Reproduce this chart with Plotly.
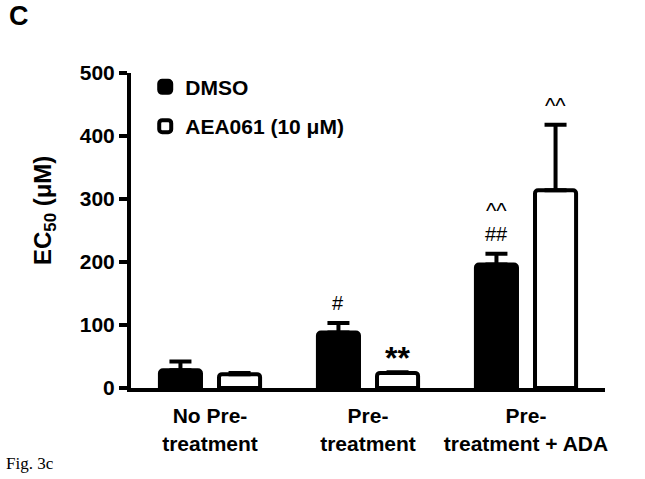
import plotly.graph_objects as go

# Data (EC50 in uM, mean + upper SEM)
categories = ["No Pre-<br>treatment", "Pre-<br>treatment", "Pre-<br>treatment + ADA"]
dmso_vals = [28, 88, 196]
dmso_err = [14, 15, 17]
aea_vals = [22, 24, 314]
aea_err = [2, 1, 104]

# significance marks above each bar
dmso_marks = ["", "#", "##"]
dmso_marks_top = ["", "", "^^"]
aea_marks = ["", "**", "^^"]

y_ticks = [0, 100, 200, 300, 400, 500]

FONT = "Liberation Sans, Arial, sans-serif"
W, H = 645, 479
ML, MR, MT, MB = 131, 40, 73, 91
bargap_ = 0.252
half_slot = (1 - bargap_) / 4  # offset of each bar centre from the category centre

fig = go.Figure()

fig.add_bar(
    name="DMSO",
    x=categories,
    y=dmso_vals,
    marker=dict(color="black", line=dict(color="black", width=4), cornerradius=3),
    error_y=dict(type="data", array=dmso_err, arrayminus=[0] * 3, symmetric=False,
                 color="black", thickness=4, width=11),
    legendgroup="a",
)
fig.add_bar(
    name="AEA061 (10 μM)",
    x=categories,
    y=aea_vals,
    marker=dict(color="white", line=dict(color="black", width=4), cornerradius=3),
    error_y=dict(type="data", array=aea_err, arrayminus=[0] * 3, symmetric=False,
                 color="black", thickness=4, width=11),
    legendgroup="b",
)


def mark_font(size, bold=False):
    return dict(size=size, family=FONT, color="black", weight="bold" if bold else "normal")


annotations = []
for i in range(len(categories)):
    top_d = dmso_vals[i] + dmso_err[i]
    top_a = aea_vals[i] + aea_err[i]
    if dmso_marks[i]:
        annotations.append(dict(x=i - half_slot, y=top_d, xref="x", yref="y", text=dmso_marks[i],
                                showarrow=False, yanchor="bottom", yshift=7,
                                font=mark_font(20)))
    if dmso_marks_top[i]:
        annotations.append(dict(x=i - half_slot, y=top_d, xref="x", yref="y", text=dmso_marks_top[i],
                                showarrow=False, yanchor="bottom", yshift=29,
                                font=mark_font(22)))
    if aea_marks[i]:
        big = aea_marks[i] == "**"
        annotations.append(dict(x=i + half_slot, y=top_a, xref="x", yref="y", text=aea_marks[i],
                                showarrow=False, yanchor="bottom", yshift=-6 if big else 5,
                                font=mark_font(32, True) if big else mark_font(22)))


def px_x(px):
    return (px - ML) / (W - ML - MR)


def px_y(py):
    return (H - MB - py) / (H - MT - MB)


# y-axis title, panel letter and figure caption
annotations.append(dict(x=px_x(44), y=px_y(211), xref="paper", yref="paper",
                        xanchor="center", yanchor="middle",
                        text="EC<sub>50</sub> (μM)", textangle=-90, showarrow=False,
                        font=mark_font(24, True)))
annotations.append(dict(x=px_x(7), y=px_y(-1), xref="paper", yref="paper", text="C",
                        showarrow=False, xanchor="left", yanchor="top",
                        font=mark_font(27, True)))
annotations.append(dict(x=px_x(4), y=px_y(463), xref="paper", yref="paper", text="Fig. 3c",
                        showarrow=False, xanchor="left", yanchor="middle",
                        font=dict(size=17, family="Liberation Serif, Times New Roman, serif",
                                  color="black", weight="normal")))

fig.update_layout(
    width=W,
    height=H,
    margin=dict(l=ML, r=MR, t=MT, b=MB),
    plot_bgcolor="white",
    paper_bgcolor="white",
    barmode="group",
    bargap=bargap_,
    bargroupgap=0.305,
    font=dict(family=FONT, color="black", size=21, weight="bold"),
    legend=dict(x=0.03, y=1.02, xanchor="left", yanchor="top", tracegroupgap=9,
                font=dict(size=21, family=FONT, weight="bold"), bgcolor="rgba(0,0,0,0)"),
    annotations=annotations,
    xaxis=dict(
        range=[-0.5, 2.5],
        showline=True, linewidth=4, linecolor="black",
        ticks="", showgrid=False, zeroline=False,
        tickfont=dict(size=21, family=FONT, weight="bold"),
        ticklabelstandoff=6,
    ),
    xaxis2=dict(
        overlaying="x", anchor="y", side="bottom",
        range=[-0.5, 2.5],
        tickmode="array",
        tickvals=[i + s * half_slot for i in range(len(categories)) for s in (-1, 1)],
        ticks="outside", ticklen=8, tickwidth=4, tickcolor="black",
        showticklabels=False, showgrid=False, zeroline=False, showline=False,
    ),
    yaxis=dict(
        range=[0, 500], tickvals=y_ticks,
        showline=True, linewidth=4, linecolor="black",
        ticks="outside", ticklen=8, tickwidth=4, tickcolor="black",
        showgrid=False, zeroline=False,
        tickfont=dict(size=21, family=FONT, weight="bold"),
    ),
)

# drop the browser's default page margin so the figure fills the window
fig.write_html("out.html", config={"displayModeBar": False},
               post_script="document.body.style.margin='0';")
